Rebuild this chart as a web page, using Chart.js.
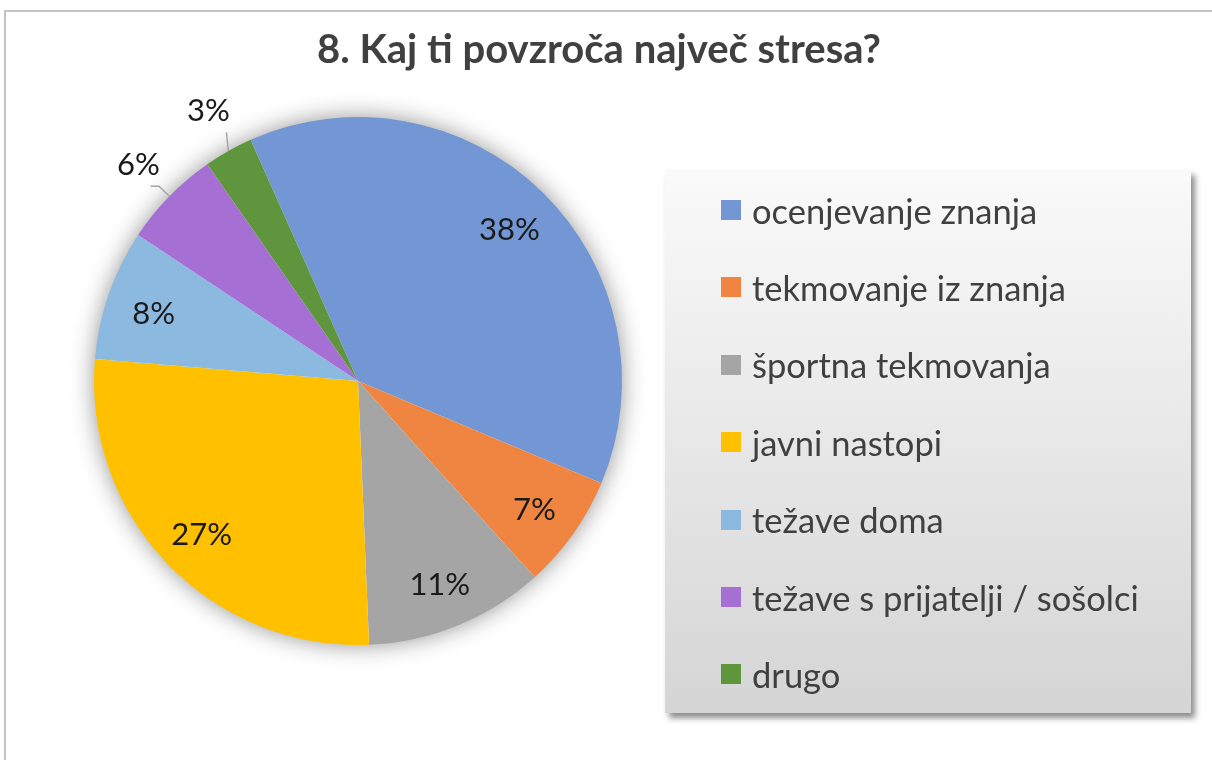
<!DOCTYPE html>
<html>
<head>
<meta charset="utf-8">
<script src="https://cdn.jsdelivr.net/npm/chart.js@4.4.1/dist/chart.umd.min.js"></script>
<style>
    html, body { margin: 0; padding: 0; background: #fff; }
    body { width: 1212px; height: 760px; position: relative; overflow: hidden; font-family: Lato, 'Open Sans', sans-serif; }
    #frame { position: absolute; left: 4px; top: 10px; width: 1220px; height: 770px; border: 2px solid #c4c4c4; box-sizing: border-box; }
    #title { position: absolute; left: 0; top: 24px; width: 1198px; text-align: center; font-weight: bold; font-size: 40px; color: #404040; }
    #chartWrap { position: absolute; left: 0; top: 0; width: 1212px; height: 760px; }
    #legendBox {
        position: absolute; left: 665px; top: 170px; width: 526px; height: 543px;
        background: linear-gradient(to bottom, #fafafa 0%, #d5d5d5 100%);
        box-shadow: 4px 5px 6px rgba(0,0,0,0.45);
    }
    .legend-item { position: absolute; left: 56px; height: 40px; display: flex; align-items: center; font-size: 34.5px; color: #404040; white-space: nowrap; }
    .legend-item span.sw { width: 20px; height: 20px; margin-right: 11px; display: inline-block; }
</style>
</head>
<body>
<div id="frame"></div>
<div id="chartWrap"><canvas id="pieChart" width="1212" height="760"></canvas></div>
<div id="title">8. Kaj ti povzroča največ stresa?</div>
<div id="legendBox"></div>

<script>
// Podatki
const categories = ['ocenjevanje znanja', 'tekmovanje iz znanja', 'športna tekmovanja', 'javni nastopi', 'težave doma', 'težave s prijatelji / sošolci', 'drugo'];
const shares = [38, 7, 11, 27, 8, 6, 3];
const sliceColors = ['#7297d4', '#ef8540', '#a5a5a5', '#ffc000', '#8cb9e0', '#a66fd4', '#5f953d'];

// Legenda (HTML)
const legendBox = document.getElementById('legendBox');
categories.forEach((c, i) => {
    const item = document.createElement('div');
    item.className = 'legend-item';
    item.style.top = (20 + i * 77.4) + 'px';
    item.innerHTML = `<span class="sw" style="background:${sliceColors[i]}"></span>${c}`;
    legendBox.appendChild(item);
});

// senca okoli torte
const pieShadow = {
    id: 'pieShadow',
    beforeDatasetsDraw(chart) {
        const arc = chart.getDatasetMeta(0).data[0];
        if (!arc) return;
        const ctx = chart.ctx;
        ctx.save();
        ctx.shadowColor = 'rgba(0,0,0,0.45)';
        ctx.shadowBlur = 24;
        ctx.fillStyle = '#ffffff';
        ctx.beginPath();
        ctx.arc(arc.x, arc.y, arc.outerRadius - 1, 0, Math.PI * 2);
        ctx.fill();
        ctx.restore();
    }
};

// oznake odstotkov
const pctLabels = {
    id: 'pctLabels',
    afterDatasetsDraw(chart) {
        const ctx = chart.ctx;
        const meta = chart.getDatasetMeta(0);
        ctx.save();
        ctx.font = '31px Lato, "Open Sans", sans-serif';
        ctx.textAlign = 'center';
        ctx.textBaseline = 'middle';
        meta.data.forEach((arc, i) => {
            const v = shares[i];
            const mid = (arc.startAngle + arc.endAngle) / 2;
            const r = arc.outerRadius;
            const cx = arc.x, cy = arc.y;
            const txt = v + '%';
            ctx.fillStyle = '#1a1a1a';
            if (v >= 7) {
                const f = 0.82;
                ctx.fillText(txt, cx + Math.cos(mid) * r * f, cy + Math.sin(mid) * r * f + 4);
            } else {
                const lx = cx + Math.cos(mid) * r * 1.185;
                const ly = cy + Math.sin(mid) * r * 1.185;
                const ex = cx + Math.cos(mid) * r;
                const ey = cy + Math.sin(mid) * r;
                ctx.strokeStyle = '#a6a6a6';
                ctx.lineWidth = 1.5;
                ctx.beginPath();
                ctx.moveTo(ex, ey);
                if (Math.abs(Math.sin(mid)) > 0.85) {
                    // skoraj navpicno
                    ctx.lineTo(ex - 2, ly + 24);
                } else {
                    const bx = cx + Math.cos(mid) * r * 1.055;
                    const by = cy + Math.sin(mid) * r * 1.055;
                    ctx.lineTo(bx, by);
                    ctx.lineTo(lx + 16, by);
                }
                ctx.stroke();
                ctx.fillText(txt, lx + 4, ly + 3);
            }
        });
        ctx.restore();
    }
};

const ctx = document.getElementById('pieChart').getContext('2d');
const pieChart = new Chart(ctx, {
    type: 'pie',
    data: {
        labels: categories,
        datasets: [{ data: shares, backgroundColor: sliceColors, borderWidth: 0 }]
    },
    options: {
        responsive: false,
        animation: false,
        rotation: -24,
        layout: { padding: { left: 94, right: 590, top: 117, bottom: 115 } },
        plugins: { legend: { display: false }, tooltip: { enabled: false }, title: { display: false } }
    },
    plugins: [pieShadow, pctLabels]
});
</script>
</body>
</html>
